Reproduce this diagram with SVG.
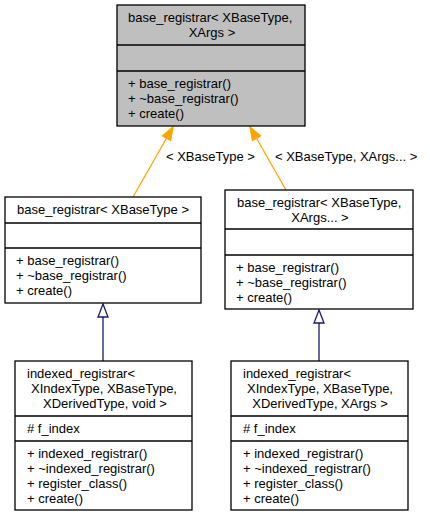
<svg xmlns="http://www.w3.org/2000/svg" width="430" height="516" viewBox="0 0 430 516">
<style>
text{font-family:"Liberation Sans",Arial,Helvetica,sans-serif;font-size:13px;fill:#000}
.c{text-anchor:middle}
.box{fill:#fff;stroke:#000;stroke-width:1.3}
.main{fill:#bfbfbf;stroke:#000;stroke-width:1.3}
.sep{stroke:#000;stroke-width:1.3;fill:none}
.inh{stroke:#191970;stroke-width:1.3;fill:none}
.inhh{stroke:#191970;stroke-width:1.3;fill:#fff}
.tpl{stroke:#ffa500;stroke-width:1.3;fill:none}
.tplh{stroke:#ffa500;stroke-width:1.3;fill:#ffa500}
</style>
<rect width="430" height="516" fill="#fff"/>
<g id="connectors">
<line class="tpl" x1="133" y1="197" x2="166.5" y2="138.3"/>
<polygon class="tplh" points="173,127 170.6,140.6 162.5,136"/>
<text x="166" y="161">&lt; XBaseType &gt;</text>
<line class="tpl" x1="286" y1="190" x2="256.5" y2="138.3"/>
<polygon class="tplh" points="250,127 260.5,136 252.4,140.6"/>
<text x="275" y="161">&lt; XBaseType, XArgs... &gt;</text>
<line class="inh" x1="103" y1="361" x2="103" y2="317"/>
<polygon class="inhh" points="103,304 108,317 98,317"/>
<line class="inh" x1="319" y1="361" x2="319" y2="323"/>
<polygon class="inhh" points="319,310 324,323 314,323"/>
</g>
<g id="node_base_registrar_XBaseType_XArgs">
<rect class="main" x="117" y="5" width="188" height="121"/>
<line class="sep" x1="117" y1="45" x2="305" y2="45"/>
<line class="sep" x1="117" y1="71" x2="305" y2="71"/>
<text x="128" y="22">base_registrar&lt; XBaseType,</text>
<text class="c" x="212" y="37">XArgs &gt;</text>
<text x="128" y="88">+ base_registrar()</text>
<text x="128" y="103">+ ~base_registrar()</text>
<text x="128" y="118">+ create()</text>
</g>
<g id="node_base_registrar_XBaseType">
<rect class="box" x="5" y="197" width="196" height="106"/>
<line class="sep" x1="5" y1="223" x2="201" y2="223"/>
<line class="sep" x1="5" y1="248" x2="201" y2="248"/>
<text class="c" x="103" y="214">base_registrar&lt; XBaseType &gt;</text>
<text x="16" y="265">+ base_registrar()</text>
<text x="16" y="280">+ ~base_registrar()</text>
<text x="16" y="295">+ create()</text>
</g>
<g id="node_base_registrar_XBaseType_XArgsPack">
<rect class="box" x="225" y="190" width="188" height="119"/>
<line class="sep" x1="225" y1="229" x2="413" y2="229"/>
<line class="sep" x1="225" y1="255" x2="413" y2="255"/>
<text x="237" y="207">base_registrar&lt; XBaseType,</text>
<text class="c" x="320" y="222">XArgs... &gt;</text>
<text x="236" y="272">+ base_registrar()</text>
<text x="236" y="287">+ ~base_registrar()</text>
<text x="236" y="302">+ create()</text>
</g>
<g id="node_indexed_registrar_void">
<rect class="box" x="15" y="361" width="177" height="149"/>
<line class="sep" x1="15" y1="416" x2="192" y2="416"/>
<line class="sep" x1="15" y1="441" x2="192" y2="441"/>
<text x="27" y="378">indexed_registrar&lt;</text>
<text class="c" x="104" y="393">XIndexType, XBaseType,</text>
<text class="c" x="105" y="408">XDerivedType, void &gt;</text>
<text x="27" y="433"># f_index</text>
<text x="27" y="458">+ indexed_registrar()</text>
<text x="27" y="473">+ ~indexed_registrar()</text>
<text x="27" y="488">+ register_class()</text>
<text x="27" y="503">+ create()</text>
</g>
<g id="node_indexed_registrar_XArgs">
<rect class="box" x="231" y="361" width="177" height="149"/>
<line class="sep" x1="231" y1="416" x2="408" y2="416"/>
<line class="sep" x1="231" y1="441" x2="408" y2="441"/>
<text x="243" y="378">indexed_registrar&lt;</text>
<text class="c" x="320" y="393">XIndexType, XBaseType,</text>
<text class="c" x="320" y="408">XDerivedType, XArgs &gt;</text>
<text x="243" y="433"># f_index</text>
<text x="243" y="458">+ indexed_registrar()</text>
<text x="243" y="473">+ ~indexed_registrar()</text>
<text x="243" y="488">+ register_class()</text>
<text x="243" y="503">+ create()</text>
</g>
</svg>
